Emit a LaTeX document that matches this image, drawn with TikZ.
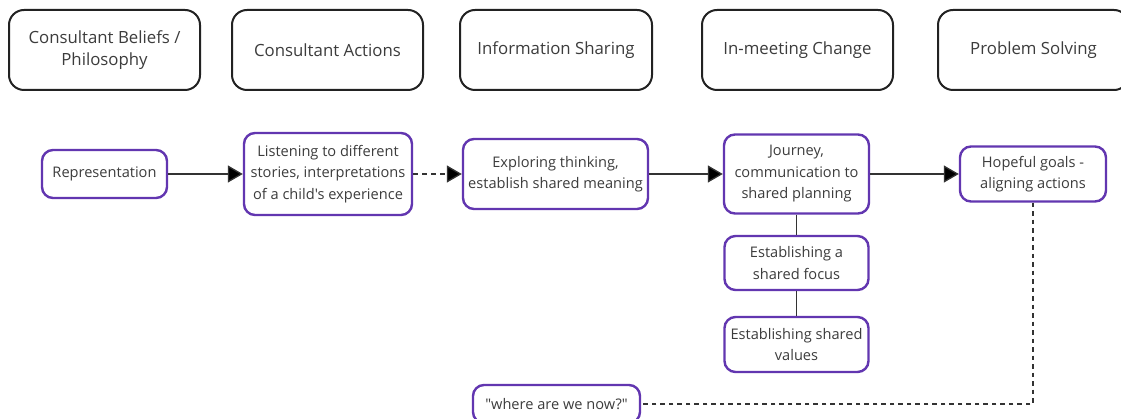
\documentclass[tikz,border=0pt]{standalone}
\usepackage{fontspec}
\setmainfont{Open Sans}[Ligatures=TeXOff]
\usetikzlibrary{arrows.meta}
\definecolor{txt}{HTML}{3C3C3C}
\definecolor{edge}{HTML}{222222}
\definecolor{violet}{HTML}{6236B0}
\definecolor{link}{HTML}{333333}
\begin{document}
\begin{tikzpicture}[x=1pt,y=-1pt,
  stage/.style={draw=edge, line width=2pt, rounded corners=15pt, align=center,
    text=txt, font=\fontsize{16.8}{22}\selectfont, inner sep=0pt,
    minimum width=191pt, minimum height=80pt},
  item/.style={draw=violet, line width=2.4pt, rounded corners=11pt, align=center,
    text=txt, font=\fontsize{14.6}{21.5}\selectfont, inner sep=0pt},
  flow/.style={draw=link, line width=1.3pt, -{Triangle[length=15pt,width=17pt,fill=black]}},
  dflow/.style={flow, dash pattern=on 5pt off 4pt},
  tie/.style={draw=link, line width=1.2pt},
  dtie/.style={tie, dash pattern=on 4.5pt off 4pt}]
\useasboundingbox[fill=white] (0,0) rectangle (1121,419);
\clip (0,0) rectangle (1121,419);

% stage headings
\node[stage] (h1) at (104.5,50) {Consultant Beliefs /\\Philosophy};
\node[stage] (h2) at (327.5,50) {Consultant Actions};
\node[stage, minimum width=192pt] (h3) at (556,50) {Information Sharing};
\node[stage] (h4) at (797.5,50) {In-meeting Change};
\node[stage] (h5) at (1033.5,50) {Problem Solving};

% process items
\node[item, minimum width=125pt, minimum height=48pt] (rep) at (104.5,174) {Representation};
\node[item, minimum width=168pt, minimum height=82pt] (listen) at (328,174)
  {Listening to different\\stories, interpretations\\of a child's experience};
\node[item, minimum width=185pt, minimum height=70pt] (explore) at (555.5,174)
  {Exploring thinking,\\establish shared meaning};
\node[item, minimum width=145pt, minimum height=79pt] (journey) at (796.5,174)
  {Journey,\\communication to\\shared planning};
\node[item, minimum width=146pt, minimum height=55pt] (hope) at (1033,174)
  {Hopeful goals -\\aligning actions};
\node[item, minimum width=144pt, minimum height=54pt] (focus) at (796.5,263)
  {Establishing a\\shared focus};
\node[item, minimum width=144pt, minimum height=55pt] (values) at (796.5,344.5)
  {Establishing shared\\values};
\node[item, minimum width=167pt, minimum height=38pt] (where) at (556.5,404)
  {"where are we now?"};

% connectors
\draw[flow] (rep.east) -- (listen.west);
\draw[dflow] (listen.east) -- (explore.west);
\draw[flow] (explore.east) -- (journey.west);
\draw[flow] (journey.east) -- (hope.west);
\draw[tie] (journey.south) -- (focus.north);
\draw[tie] (focus.south) -- (values.north);
\draw[dtie] (hope.south) |- (where.east);
\end{tikzpicture}
\end{document}
